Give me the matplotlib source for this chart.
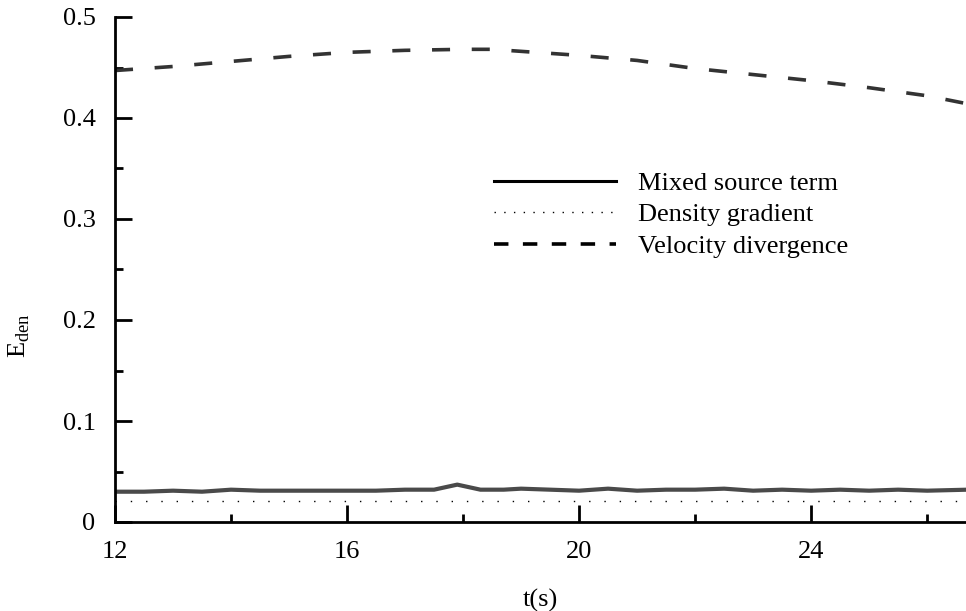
import numpy as np
import matplotlib
matplotlib.use("Agg")
import matplotlib.pyplot as plt
from matplotlib.lines import Line2D
from matplotlib.ticker import MultipleLocator

plt.rcParams['font.family'] = ['Liberation Serif', 'DejaVu Serif']
plt.rcParams['mathtext.fontset'] = 'custom'
plt.rcParams['mathtext.rm'] = 'Liberation Serif'
plt.rcParams['font.size'] = 19

# --- data ---
t_vel = [12, 13, 14, 15, 16, 17, 18, 18.5, 19, 20, 21, 22, 23, 24, 25, 26, 26.7]
vel_div = [0.447, 0.451, 0.456, 0.461, 0.465, 0.467, 0.468, 0.468, 0.466,
           0.462, 0.457, 0.449, 0.443, 0.437, 0.430, 0.422, 0.414]

t_mix = [12, 12.5, 13, 13.5, 14, 14.5, 15, 15.5, 16, 16.5, 17, 17.5, 17.9,
         18.3, 18.7, 19, 19.5, 20, 20.5, 21, 21.5, 22, 22.5, 23, 23.5, 24,
         24.5, 25, 25.5, 26, 26.7]
mixed = [0.030, 0.030, 0.031, 0.030, 0.032, 0.031, 0.031, 0.031, 0.031,
         0.031, 0.032, 0.032, 0.037, 0.032, 0.032, 0.033, 0.032, 0.031,
         0.033, 0.031, 0.032, 0.032, 0.033, 0.031, 0.032, 0.031, 0.032,
         0.031, 0.032, 0.031, 0.032]

t_den = [12, 26.7]
dens_grad = [0.021, 0.021]

labels = ['Mixed source term', 'Density gradient', 'Velocity divergence']

fig = plt.figure(figsize=(9.66, 6.11), dpi=100)
ax = fig.add_axes([115 / 966, 89 / 611, 851 / 966, 505 / 611])

ax.plot(t_mix, mixed, color='#4a4a4a', lw=3.0)
ax.plot(t_den, dens_grad, color='black', lw=1.0, linestyle=(0, (1, 10)))
ax.plot(t_vel, vel_div, color='#333333', lw=2.6, linestyle=(0, (5, 6)))

ax.set_xlim(12, 26.67)
ax.set_ylim(0, 0.5)
ax.xaxis.set_major_locator(MultipleLocator(4))
ax.xaxis.set_minor_locator(MultipleLocator(2))
ax.yaxis.set_major_locator(MultipleLocator(0.1))
ax.yaxis.set_minor_locator(MultipleLocator(0.05))
ax.yaxis.set_major_formatter(plt.FuncFormatter(lambda v, p: '0' if v == 0 else f'{v:.1f}'))

ax.spines['top'].set_visible(False)
ax.spines['right'].set_visible(False)
for s in ('left', 'bottom'):
    ax.spines[s].set_linewidth(2)
ax.tick_params(which='major', direction='in', length=12, width=2, pad=14)
ax.tick_params(which='minor', direction='in', length=6, width=2)

ax.set_xlabel('t(s)', labelpad=18)
ax.set_ylabel(r'E$_{\rm den}$')
ax.yaxis.set_label_coords(-0.097, 0.37)

# legend keys drawn in black like the printed figure
handles = [
    Line2D([], [], color='black', lw=2.2),
    Line2D([], [], color='black', lw=1.0, linestyle=(0, (1, 6))),
    Line2D([], [], color='black', lw=2.6, linestyle=(0, (4, 4))),
]
ax.legend(handles, labels, loc='upper left', bbox_to_anchor=(0.43, 0.72),
          frameon=False, handlelength=4.6, handletextpad=0.85, labelspacing=0.3,
          borderpad=0)

fig.savefig('out.png', dpi=100)
